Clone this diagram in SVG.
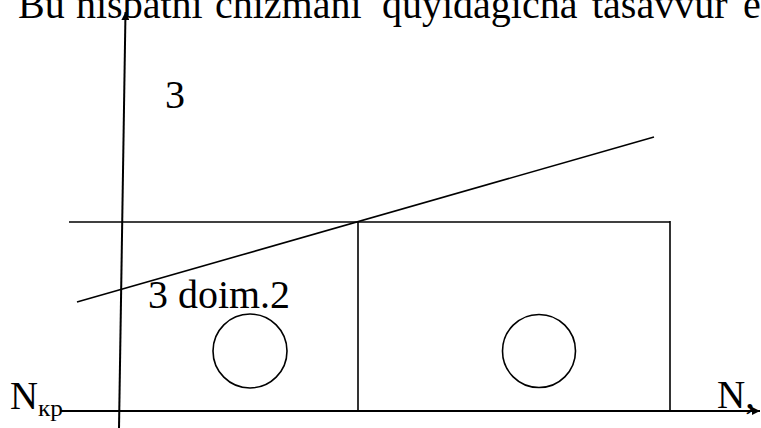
<svg xmlns="http://www.w3.org/2000/svg" width="761" height="428" viewBox="0 0 761 428">
<style>
text{font-family:"Liberation Serif","Times New Roman",serif;fill:#000}
.big{font-size:40px}
.sub{font-size:24px}
.ln{stroke:#000;stroke-width:2;fill:none}
.thin{stroke:#000;stroke-width:1.6;fill:none}
</style>
<defs>
<marker id="ah" viewBox="0 0 10 10" refX="10" refY="5" markerWidth="10" markerHeight="8" markerUnits="userSpaceOnUse" orient="auto">
<path d="M0,0 L10,5 L0,10 z" fill="#000"/>
</marker>
</defs>
<rect width="761" height="428" fill="#fff"/>
<g id="heading">
<text class="big" x="18" y="18" textLength="46.7" lengthAdjust="spacingAndGlyphs">Bu</text>
<text class="big" x="76" y="18" textLength="126.7" lengthAdjust="spacingAndGlyphs">nisbatni</text>
<text class="big" x="215" y="18" textLength="146.6" lengthAdjust="spacingAndGlyphs">chizmani</text>
<text class="big" x="382" y="18" textLength="195.5" lengthAdjust="spacingAndGlyphs">quyidagicha</text>
<text class="big" x="592" y="18" textLength="135.5" lengthAdjust="spacingAndGlyphs">tasavvur</text>
<text class="big" x="743" y="18" textLength="17.8" lengthAdjust="spacingAndGlyphs">e</text>
</g>
<g id="connectors">
<line id="axis-y" class="ln" x1="119" y1="428" x2="125.5" y2="12" marker-end="url(#ah)"/>
<line id="axis-x" class="ln" x1="60" y1="411" x2="760" y2="411" marker-end="url(#ah)"/>
<line id="top-line" class="thin" x1="69" y1="222" x2="670" y2="222"/>
<line id="slant" class="thin" x1="77" y1="302" x2="654" y2="137"/>
</g>
<g id="box-left">
<line class="thin" x1="358" y1="222" x2="358" y2="411"/>
<circle class="thin" cx="250" cy="351" r="37"/>
</g>
<g id="box-right">
<line class="thin" x1="670" y1="221" x2="670" y2="411"/>
<circle class="thin" cx="539" cy="351" r="36.5"/>
</g>
<g id="labels">
<text class="big" x="165" y="108" textLength="20" lengthAdjust="spacingAndGlyphs">3</text>
<text class="big" x="148" y="308" textLength="142" lengthAdjust="spacingAndGlyphs">3 doim.2</text>
<text class="big" x="10" y="409" textLength="28" lengthAdjust="spacingAndGlyphs">N</text>
<text class="sub" x="38" y="416" textLength="25" lengthAdjust="spacingAndGlyphs">кр</text>
<text class="big" x="717" y="408" textLength="38" lengthAdjust="spacingAndGlyphs">N,</text>
</g>
</svg>
